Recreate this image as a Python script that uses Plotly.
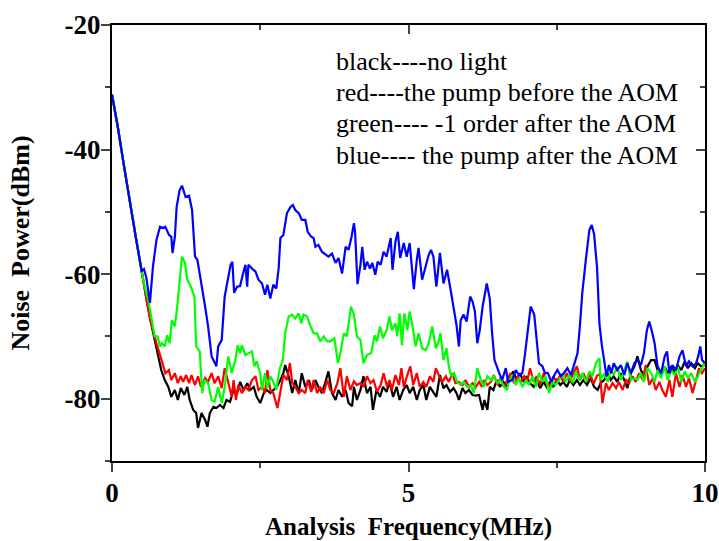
import plotly.graph_objects as go

# ---- data ----
f_common = [0.0, 0.1, 0.2, 0.3, 0.4, 0.5]
p_common = [-31.2, -36.5, -42.5, -48.5, -54.0, -59.5]

f_blue = [0.54, 0.58, 0.64, 0.69, 0.75, 0.81, 0.86, 0.90, 0.96, 1.00, 1.02, 1.06, 1.09, 1.14, 1.18, 1.24, 1.30, 1.35, 1.40, 1.44,
          1.50, 1.57, 1.62, 1.68, 1.72, 1.76, 1.79, 1.85, 1.90, 1.95, 2.00, 2.03, 2.06, 2.11, 2.16, 2.21, 2.25, 2.28, 2.30, 2.36,
          2.42, 2.47, 2.53, 2.58, 2.62, 2.67, 2.72, 2.77, 2.81, 2.84, 2.89, 2.95, 3.01, 3.05, 3.09, 3.15, 3.20, 3.26, 3.30, 3.36,
          3.40, 3.43, 3.48, 3.54, 3.60, 3.65, 3.71, 3.77, 3.82, 3.88, 3.94, 3.99, 4.04, 4.08, 4.10, 4.14, 4.19, 4.22, 4.26, 4.30,
          4.35, 4.39, 4.44, 4.48, 4.53, 4.58, 4.63, 4.67, 4.70, 4.73, 4.78, 4.82, 4.86, 4.92, 4.97, 5.02, 5.09, 5.14, 5.17, 5.23,
          5.29, 5.34, 5.38, 5.42, 5.47, 5.53, 5.59, 5.65, 5.71, 5.77, 5.81, 5.85, 5.88, 5.93, 5.98, 6.04, 6.08, 6.12, 6.16, 6.20,
          6.25, 6.32, 6.37, 6.41, 6.45, 6.53, 6.58, 6.64, 6.68, 6.75, 6.81, 6.86, 6.92, 6.96, 7.00, 7.06, 7.12, 7.16, 7.20, 7.26,
          7.30, 7.35, 7.41, 7.46, 7.51, 7.57, 7.62, 7.68, 7.74, 7.79, 7.85, 7.89, 7.93, 7.99, 8.05, 8.09, 8.13, 8.18, 8.22, 8.26,
          8.30, 8.34, 8.38, 8.42, 8.46, 8.52, 8.58, 8.64, 8.69, 8.75, 8.81, 8.86, 8.92, 8.97, 9.02, 9.06, 9.10, 9.15, 9.20, 9.26,
          9.32, 9.36, 9.40, 9.45, 9.51, 9.57, 9.62, 9.68, 9.73, 9.79, 9.85, 9.89, 9.92, 9.95, 10.0]
p_blue = [-59.2, -60.6, -64.6, -58.8, -54.5, -52.4, -52.6, -52.4, -53.7, -54.0, -56.6, -54.0, -49.2, -46.5, -45.8, -47.6, -47.4, -49.7, -57.2, -57.7,
          -60.9, -65.2, -68.4, -73.2, -74.0, -74.8, -71.6, -70.6, -63.6, -60.7, -58.5, -58.0, -63.0, -62.0, -61.9, -59.9, -58.5, -62.0, -58.5, -59.1,
          -59.6, -60.9, -61.5, -63.3, -61.7, -63.9, -61.7, -62.3, -59.1, -54.2, -53.7, -50.2, -49.2, -48.9, -49.7, -50.2, -51.3, -51.3, -53.2, -54.0,
          -54.2, -55.6, -55.3, -56.4, -56.9, -57.2, -56.7, -58.2, -57.4, -59.9, -55.6, -56.1, -54.0, -51.8, -53.4, -61.6, -58.5, -55.6, -59.3, -58.0,
          -59.1, -58.2, -60.1, -58.0, -58.5, -56.4, -57.2, -55.6, -54.2, -59.3, -54.8, -53.2, -57.4, -55.0, -57.2, -55.0, -62.4, -57.7, -55.8, -60.9,
          -58.8, -56.9, -56.1, -57.2, -62.0, -56.6, -61.5, -59.3, -62.5, -65.7, -68.2, -71.6, -67.4, -66.5, -67.6, -63.6, -64.4, -66.0, -71.1, -69.1,
          -65.2, -61.5, -63.9, -69.5, -73.8, -75.9, -77.0, -75.1, -77.3, -77.0, -75.4, -76.2, -75.9, -73.2, -70.0, -65.2, -66.5, -70.6, -74.3, -74.8,
          -75.9, -75.9, -77.3, -76.2, -75.4, -76.4, -75.9, -75.1, -76.2, -74.6, -72.7, -68.4, -63.1, -57.7, -52.9, -52.1, -53.6, -59.0, -68.0, -71.4,
          -73.8, -76.4, -74.6, -75.9, -74.3, -75.4, -74.6, -76.2, -74.3, -75.9, -74.3, -73.8, -74.6, -72.7, -69.0, -67.6, -69.0, -71.1, -74.8, -75.9,
          -73.2, -72.4, -75.9, -74.6, -75.4, -73.2, -72.2, -74.8, -74.0, -74.8, -74.3, -73.0, -71.6, -73.8, -74.3]

f_green = [0.55, 0.61, 0.66, 0.72, 0.77, 0.81, 0.84, 0.89, 0.93, 0.97, 1.01, 1.06, 1.10, 1.14, 1.18, 1.23, 1.27, 1.33, 1.39, 1.42,
           1.48, 1.52, 1.56, 1.62, 1.68, 1.73, 1.79, 1.85, 1.90, 1.96, 2.02, 2.08, 2.12, 2.16, 2.19, 2.25, 2.30, 2.36, 2.40, 2.44,
           2.50, 2.53, 2.58, 2.62, 2.67, 2.72, 2.77, 2.83, 2.88, 2.92, 2.98, 3.04, 3.09, 3.15, 3.19, 3.23, 3.29, 3.34, 3.40, 3.46,
           3.51, 3.57, 3.63, 3.68, 3.75, 3.81, 3.85, 3.91, 3.96, 4.03, 4.08, 4.13, 4.19, 4.24, 4.30, 4.37, 4.43, 4.47, 4.52, 4.57,
           4.63, 4.68, 4.72, 4.78, 4.81, 4.85, 4.89, 4.93, 4.98, 5.02, 5.06, 5.12, 5.17, 5.23, 5.29, 5.34, 5.40, 5.46, 5.50, 5.54,
           5.59, 5.64, 5.68, 5.72, 5.77, 5.82, 5.88, 5.93, 5.99, 6.05, 6.10, 6.16, 6.22, 6.27, 6.33, 6.39, 6.44, 6.50, 6.55, 6.61,
           6.66, 6.69, 6.75, 6.81, 6.86, 6.92, 6.98, 7.03, 7.09, 7.15, 7.20, 7.26, 7.31, 7.37, 7.43, 7.48, 7.54, 7.60, 7.65, 7.71,
           7.77, 7.82, 7.88, 7.93, 7.99, 8.05, 8.10, 8.16, 8.22, 8.24, 8.30, 8.36, 8.41, 8.46, 8.52, 8.58, 8.64, 8.69, 8.75, 8.81,
           8.86, 8.92, 8.97, 9.03, 9.09, 9.15, 9.20, 9.26, 9.32, 9.37, 9.43, 9.49, 9.54, 9.60, 9.66, 9.71, 9.77, 9.83, 9.88, 9.93,
           9.99]
p_green = [-62.0, -64.1, -66.8, -70.0, -70.0, -71.6, -71.1, -71.6, -69.8, -71.1, -67.4, -68.4, -65.2, -60.9, -57.2, -58.2, -60.9, -62.0, -63.6, -71.6,
           -72.4, -79.1, -77.0, -77.5, -80.2, -80.5, -78.1, -80.7, -78.1, -73.2, -75.9, -73.8, -71.4, -72.7, -71.4, -73.0, -72.7, -72.4, -74.8, -74.0,
           -75.9, -78.6, -75.9, -78.3, -76.4, -77.3, -78.6, -75.1, -73.8, -69.5, -66.8, -66.5, -67.1, -66.3, -67.9, -66.5, -66.8, -68.2, -69.5, -69.5,
           -70.8, -70.0, -70.8, -70.8, -70.3, -74.3, -72.7, -69.5, -70.0, -65.2, -66.5, -70.0, -70.6, -74.3, -73.0, -72.7, -69.8, -70.8, -68.4, -70.3,
           -69.0, -66.8, -69.0, -67.9, -70.0, -66.3, -71.4, -66.3, -69.0, -66.0, -67.9, -71.6, -69.5, -71.9, -72.2, -71.1, -68.4, -71.9, -71.1, -69.5,
           -73.8, -71.9, -74.8, -76.4, -75.9, -77.3, -77.8, -77.3, -78.1, -77.8, -79.1, -75.1, -77.0, -78.1, -76.4, -77.0, -76.4, -77.5, -77.0, -78.1,
           -78.6, -77.3, -76.2, -77.8, -76.7, -78.1, -77.0, -77.8, -76.4, -78.1, -75.9, -77.3, -76.4, -79.1, -77.3, -77.8, -77.0, -75.9, -77.3, -76.2,
           -77.5, -75.6, -77.0, -75.9, -77.3, -75.6, -76.4, -74.3, -73.5, -77.0, -75.9, -77.3, -75.4, -76.2, -74.8, -77.0, -75.4, -74.0, -77.0, -76.7,
           -77.0, -75.9, -77.3, -75.1, -75.9, -77.3, -75.4, -76.7, -74.8, -77.0, -75.4, -76.2, -74.8, -77.3, -75.6, -76.7, -75.9, -77.3, -76.4, -75.4,
           -74.3]

f_red = [0.55, 0.60, 0.65, 0.70, 0.75, 0.81, 0.86, 0.90, 0.96, 1.00, 1.06, 1.11, 1.16, 1.20, 1.25, 1.30, 1.34, 1.40, 1.45, 1.50,
         1.57, 1.62, 1.68, 1.73, 1.79, 1.85, 1.90, 1.96, 2.02, 2.05, 2.09, 2.13, 2.19, 2.25, 2.30, 2.36, 2.42, 2.47, 2.53, 2.58,
         2.62, 2.67, 2.72, 2.79, 2.84, 2.89, 2.95, 3.00, 3.04, 3.09, 3.15, 3.20, 3.26, 3.30, 3.36, 3.40, 3.46, 3.51, 3.57, 3.63,
         3.68, 3.74, 3.80, 3.85, 3.91, 3.96, 4.02, 4.08, 4.13, 4.19, 4.24, 4.30, 4.36, 4.41, 4.47, 4.53, 4.58, 4.64, 4.68, 4.72,
         4.78, 4.84, 4.88, 4.92, 4.98, 5.03, 5.08, 5.14, 5.19, 5.25, 5.30, 5.36, 5.42, 5.46, 5.51, 5.57, 5.63, 5.68, 5.74, 5.79,
         5.85, 5.91, 5.96, 6.02, 6.08, 6.13, 6.19, 6.24, 6.27, 6.33, 6.39, 6.44, 6.50, 6.55, 6.61, 6.67, 6.72, 6.78, 6.84, 6.89,
         6.95, 7.00, 7.05, 7.11, 7.16, 7.22, 7.28, 7.33, 7.39, 7.44, 7.50, 7.56, 7.61, 7.67, 7.72, 7.78, 7.84, 7.89, 7.95, 8.01,
         8.06, 8.12, 8.18, 8.23, 8.27, 8.33, 8.38, 8.44, 8.50, 8.55, 8.61, 8.67, 8.72, 8.78, 8.83, 8.89, 8.95, 9.00, 9.06, 9.12,
         9.17, 9.23, 9.28, 9.34, 9.40, 9.45, 9.51, 9.57, 9.62, 9.68, 9.73, 9.79, 9.85, 9.90, 9.95, 10.0]
p_red = [-62.5, -65.0, -67.5, -69.5, -71.1, -73.0, -74.8, -75.9, -75.4, -77.0, -75.9, -77.5, -76.4, -77.3, -76.2, -77.5, -76.2, -77.8, -76.4, -78.1,
         -76.7, -77.3, -75.9, -77.5, -76.4, -78.3, -75.1, -77.5, -79.7, -77.0, -80.2, -77.8, -79.1, -78.1, -78.6, -77.0, -76.4, -78.6, -78.1, -79.1,
         -75.4, -78.6, -79.1, -81.5, -78.6, -76.2, -77.0, -74.3, -77.5, -78.1, -79.1, -78.6, -79.1, -77.0, -78.9, -77.0, -79.1, -78.1, -79.1, -77.0,
         -78.6, -79.1, -77.5, -75.1, -79.7, -76.4, -78.6, -77.2, -77.8, -77.5, -78.1, -76.4, -77.5, -77.0, -78.9, -77.8, -75.9, -78.1, -77.0, -78.6,
         -76.2, -77.8, -75.1, -78.1, -76.2, -74.8, -77.8, -75.9, -78.1, -77.3, -78.1, -76.4, -77.3, -75.1, -76.2, -77.3, -76.4, -77.3, -75.9, -77.5,
         -77.3, -77.8, -77.0, -78.1, -77.5, -78.2, -77.3, -78.1, -77.0, -77.8, -77.3, -76.2, -77.8, -76.7, -78.1, -77.0, -75.9, -77.5, -76.4, -77.3,
         -76.4, -77.3, -75.1, -77.3, -76.4, -77.8, -75.9, -77.3, -78.1, -76.4, -77.3, -76.2, -77.3, -75.9, -77.3, -75.9, -74.8, -77.0, -75.9, -77.3,
         -75.9, -77.6, -76.3, -76.0, -80.7, -77.5, -78.6, -77.5, -78.3, -77.3, -78.6, -77.0, -77.5, -76.4, -77.3, -75.9, -77.0, -74.6, -77.8, -76.7,
         -78.6, -77.3, -78.6, -79.7, -77.0, -79.7, -75.9, -78.1, -76.2, -78.1, -76.7, -79.1, -77.0, -75.1, -75.9, -75.1]

f_black = [0.55, 0.60, 0.65, 0.70, 0.75, 0.78, 0.83, 0.89, 0.95, 1.00, 1.06, 1.11, 1.16, 1.22, 1.27, 1.31, 1.37, 1.42, 1.45, 1.51,
           1.57, 1.61, 1.65, 1.71, 1.76, 1.82, 1.88, 1.93, 1.99, 2.05, 2.11, 2.16, 2.22, 2.28, 2.33, 2.39, 2.44, 2.50, 2.56, 2.61,
           2.67, 2.72, 2.78, 2.84, 2.89, 2.92, 2.98, 3.04, 3.09, 3.15, 3.20, 3.26, 3.32, 3.37, 3.43, 3.48, 3.54, 3.60, 3.65, 3.71,
           3.77, 3.82, 3.88, 3.94, 3.99, 4.05, 4.08, 4.13, 4.19, 4.24, 4.30, 4.36, 4.40, 4.46, 4.52, 4.57, 4.63, 4.68, 4.74, 4.80,
           4.85, 4.91, 4.97, 5.02, 5.08, 5.14, 5.19, 5.25, 5.30, 5.36, 5.42, 5.47, 5.53, 5.59, 5.64, 5.70, 5.76, 5.81, 5.85, 5.91,
           5.96, 6.02, 6.08, 6.13, 6.19, 6.25, 6.28, 6.33, 6.37, 6.43, 6.49, 6.54, 6.60, 6.66, 6.71, 6.77, 6.82, 6.88, 6.94, 6.99,
           7.05, 7.11, 7.16, 7.22, 7.28, 7.33, 7.39, 7.44, 7.50, 7.56, 7.61, 7.67, 7.72, 7.78, 7.84, 7.89, 7.95, 8.01, 8.07, 8.13,
           8.19, 8.24, 8.30, 8.36, 8.41, 8.46, 8.52, 8.58, 8.64, 8.69, 8.75, 8.81, 8.86, 8.92, 8.97, 9.03, 9.09, 9.15, 9.20, 9.26,
           9.32, 9.37, 9.43, 9.49, 9.54, 9.60, 9.66, 9.71, 9.77, 9.83, 9.88, 9.93, 9.99]
p_black = [-62.5, -65.0, -67.5, -69.5, -71.5, -73.2, -75.4, -77.0, -78.1, -79.7, -78.6, -80.2, -78.3, -79.4, -78.1, -80.2, -81.8, -82.3, -84.7, -82.3,
           -83.4, -84.5, -82.3, -81.3, -81.5, -81.0, -81.5, -80.2, -80.5, -78.6, -79.1, -77.3, -78.6, -77.5, -78.6, -78.1, -79.7, -80.7, -79.1, -78.6,
           -79.1, -78.6, -78.1, -77.0, -75.9, -74.6, -76.4, -79.1, -77.0, -79.1, -75.9, -78.1, -77.0, -78.6, -77.0, -78.1, -79.1, -77.3, -75.6, -79.1,
           -80.2, -78.6, -79.7, -78.6, -80.7, -81.2, -78.1, -80.2, -78.6, -76.4, -79.1, -78.1, -81.8, -78.6, -79.7, -78.1, -78.9, -77.3, -79.7, -78.1,
           -80.2, -78.6, -77.8, -79.1, -78.1, -80.2, -78.6, -77.8, -80.2, -78.1, -79.1, -79.7, -76.2, -78.3, -77.8, -78.9, -78.3, -79.1, -80.2, -78.3,
           -79.1, -78.6, -79.4, -79.5, -79.4, -81.8, -80.2, -81.8, -78.1, -78.6, -77.0, -78.1, -77.3, -78.1, -76.4, -75.6, -77.0, -75.9, -77.3, -76.4,
           -77.5, -78.1, -77.0, -78.3, -77.3, -78.1, -77.3, -78.1, -77.0, -77.8, -77.3, -78.1, -77.0, -77.8, -77.0, -77.8, -77.0, -77.8, -76.7, -78.1,
           -78.6, -77.5, -77.0, -75.9, -77.0, -76.4, -77.3, -75.9, -77.0, -78.3, -75.9, -74.8, -73.2, -75.4, -76.4, -74.8, -73.8, -73.8, -75.4, -75.9,
           -74.8, -75.9, -74.8, -75.9, -74.6, -75.4, -74.0, -75.1, -74.3, -75.1, -74.3, -74.8, -74.6]

legend_lines = ["black----no light",
                "red----the pump before the AOM",
                "green---- -1 order after the AOM",
                "blue---- the pump after the AOM"]
x_title = "Analysis  Frequency(MHz)"
y_title = "Noise  Power(dBm)"
x_tickvals = [0, 5, 10]
x_ticktext = ["0", "5", "10"]
y_tickvals = [-20, -40, -60, -80]
y_ticktext = ["-20", "-40", "-60", "-80"]

# ---- figure ----
series = [("black", f_black, p_black, "#000000"),
          ("red", f_red, p_red, "#ff0000"),
          ("green", f_green, p_green, "#00ff00"),
          ("blue", f_blue, p_blue, "#0000ff")]

fig = go.Figure()
for name, fx, py, col in series:
    fig.add_trace(go.Scatter(x=f_common + fx, y=p_common + py, mode="lines", name=name,
                             line=dict(color=col, width=2.2), showlegend=False))
# empty trace that makes the mirrored (top / right) frame axes render
fig.add_trace(go.Scatter(x=[None], y=[None], xaxis="x2", yaxis="y2", mode="lines",
                         showlegend=False, hoverinfo="skip"))

serif = "Liberation Serif, Times New Roman, serif"
tfont = dict(family=serif, size=27, color="black", weight="bold")
fig.update_layout(
    width=719, height=541,
    margin=dict(l=112, r=14, t=25, b=80, autoexpand=False),
    paper_bgcolor="white", plot_bgcolor="white",
    font=dict(family=serif, color="black"),
    xaxis=dict(range=[0, 10], tickvals=x_tickvals, ticktext=x_ticktext, ticks="outside", ticklen=9, tickwidth=1.5,
               minor=dict(dtick=2.5, ticks="outside", ticklen=5, tickwidth=1.5),
               showline=True, linewidth=2, linecolor="black", showgrid=False, zeroline=False,
               automargin=False, tickfont=tfont, ticklabelstandoff=-2,
               title=dict(text="<b>" + x_title + "</b>", font=dict(family=serif, size=25), standoff=28)),
    yaxis=dict(range=[-90, -20], tickvals=y_tickvals, ticktext=y_ticktext, ticks="outside", ticklen=9, tickwidth=1.5,
               minor=dict(dtick=10, ticks="outside", ticklen=5, tickwidth=1.5),
               showline=True, linewidth=2, linecolor="black", showgrid=False, zeroline=False,
               automargin=False, tickfont=tfont, ticklabelstandoff=-5,
               title=dict(text="<b>" + y_title + "</b>", font=dict(family=serif, size=26), standoff=27)),
    xaxis2=dict(range=[0, 10], overlaying="x", side="top", anchor="y", tickvals=x_tickvals,
                ticks="inside", ticklen=9, tickwidth=1.5, showticklabels=False, automargin=False,
                minor=dict(dtick=2.5, ticks="inside", ticklen=5, tickwidth=1.5),
                showline=True, linewidth=2, linecolor="black", showgrid=False, zeroline=False),
    yaxis2=dict(range=[-90, -20], overlaying="y", side="right", anchor="x", tickvals=y_tickvals,
                ticks="inside", ticklen=9, tickwidth=1.5, showticklabels=False, automargin=False,
                minor=dict(dtick=10, ticks="inside", ticklen=5, tickwidth=1.5),
                showline=True, linewidth=2, linecolor="black", showgrid=False, zeroline=False),
)

line_y = [0.917, 0.845, 0.773, 0.701]
for txt, yy in zip(legend_lines, line_y):
    fig.add_annotation(text=txt, x=0.375, y=yy, xref="paper", yref="paper", xanchor="left", yanchor="middle",
                       showarrow=False, font=dict(family=serif, size=26, color="black"))

fig.write_html("out.html")
